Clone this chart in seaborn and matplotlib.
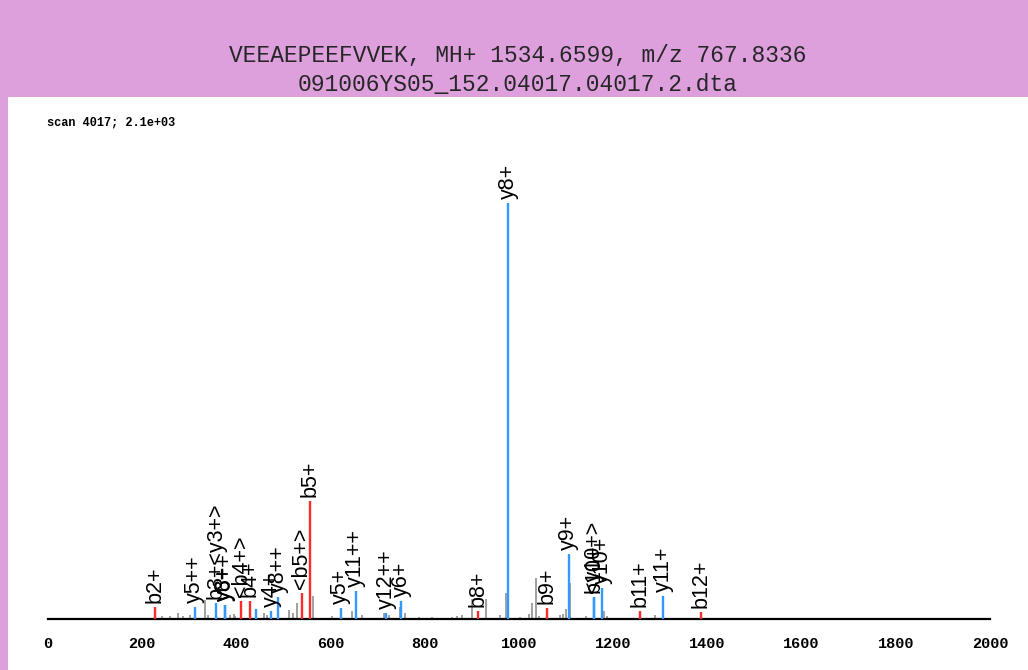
import numpy as np
import pandas as pd
import matplotlib
matplotlib.use('Agg')
import matplotlib.pyplot as plt
import seaborn as sns

# labelled fragment peaks (m/z, relative intensity in %, ion series, label)
frag_mz = [228.1, 311.2, 357.2, 375.2, 375.7, 410.2, 428.2, 441.5, 474.3, 488.7,
           539.2, 557.2, 621.4, 653.3, 717.8, 750.4, 912.4, 976.5, 1059.5, 1105.5,
           1158.5, 1158.6, 1176.6, 1257.6, 1305.6, 1386.6]
frag_int = [2.9, 2.9, 3.9, 3.4, 3.4, 4.3, 4.3, 2.4, 1.9, 5.3,
            6.3, 28.4, 2.6, 6.7, 1.5, 4.3, 1.9, 100.0, 2.6, 15.6,
            5.3, 5.3, 7.5, 1.9, 5.5, 1.7]
frag_ion = ['b', 'y', 'y', 'y', 'y', 'b', 'b', 'y', 'y', 'y',
            'b', 'b', 'y', 'y', 'y', 'y', 'b', 'y', 'b', 'y',
            'y', 'y', 'y', 'b', 'y', 'b']
frag_label = ['b2+', 'y5++', 'b3+<y3+>', 'y3+', 'y6++', '<b4+>', 'b4+', '', 'y4+', 'y8++',
              '<b5+>', 'b5+', 'y5+', 'y11++', 'y12++', 'y6+', 'b8+', 'y8+', 'b9+', 'y9+',
              'b10+', '<y10+>', 'y10+', 'b11+', 'y11+', 'b12+']

# unassigned peaks
other_mz = [241.6, 259.0, 277.0, 287.5, 301.7, 333.6, 340.7, 386.7, 394.0, 397.0,
            457.6, 464.7, 511.0, 521.0, 528.5, 561.6, 603.0, 645.4, 666.6, 712.5,
            723.0, 748.0, 758.6, 787.0, 815.0, 858.0, 868.5, 879.0, 900.4, 930.0,
            960.5, 972.6, 1003.0, 1020.6, 1027.8, 1037.0, 1042.0, 1088.0, 1093.7, 1100.0,
            1109.0, 1143.0, 1181.5, 1187.0, 1287.7]
other_int = [0.7, 0.7, 1.4, 0.7, 1.0, 4.6, 1.0, 1.0, 1.2, 0.7,
             1.4, 1.0, 2.2, 1.4, 3.9, 5.5, 0.7, 1.9, 1.0, 1.4,
             1.0, 2.9, 1.4, 0.5, 0.5, 0.5, 0.7, 1.0, 4.8, 4.8,
             1.0, 6.3, 0.5, 1.2, 3.8, 9.9, 0.7, 1.0, 1.2, 2.4,
             8.7, 0.7, 1.9, 0.7, 1.0]

title_1 = 'VEEAEPEEFVVEK, MH+ 1534.6599, m/z 767.8336'
title_2 = '091006YS05_152.04017.04017.2.dta'
scan_text = 'scan 4017; 2.1e+03'

frag = pd.DataFrame({'mz': frag_mz, 'intensity': frag_int, 'ion': frag_ion, 'label': frag_label})
other = pd.DataFrame({'mz': other_mz, 'intensity': other_int, 'ion': 'other', 'label': ''})
peaks = pd.concat([other, frag], ignore_index=True)

sns.set_style('white')
ion_colors = {'other': '#9a9a9a', 'b': '#ff2a2a', 'y': '#3399ff'}
ion_width = {'other': 1.3, 'b': 1.7, 'y': 1.7}

W, H = 1028, 670
fig = plt.figure(figsize=(W / 100, H / 100), dpi=100)
fig.patch.set_facecolor('#dda0dd')

panel = fig.add_axes([8 / W, 0, 1 - 8 / W, (H - 97) / H])
panel.set_facecolor('white')
panel.set_axis_off()
panel.add_patch(plt.Rectangle((0, 0), 1, 1, transform=panel.transAxes, color='white'))

ax = fig.add_axes([48 / W, 51 / H, 942 / W, 479 / H])
ax.patch.set_alpha(0)

for ion, grp in peaks.groupby('ion', sort=False):
    ax.vlines(grp['mz'], 0, grp['intensity'], color=ion_colors[ion],
              linewidth=ion_width[ion], zorder=2 if ion == 'other' else 3)

for _, row in frag.iterrows():
    if row['label']:
        ax.annotate(row['label'], (row['mz'], row['intensity']), xytext=(0, 3),
                    textcoords='offset points', rotation=90, ha='center', va='bottom',
                    fontsize=15.5, family='Liberation Sans', color='black')

ax.set_xlim(0, 2000)
ax.set_ylim(0, 115.1)
ax.set_xticks(range(0, 2001, 200))
ax.set_xticks(range(100, 2000, 200), minor=True)
ax.set_yticks([])
for s in ['top', 'right', 'left']:
    ax.spines[s].set_visible(False)
ax.spines['bottom'].set_linewidth(1.6)
ax.spines['bottom'].set_color('black')
ax.tick_params(axis='x', which='major', direction='out', length=6, width=1.6, pad=7,
               labelsize=11, colors='black')
ax.tick_params(axis='x', which='minor', direction='out', length=3.5, width=1.6)
for t in ax.get_xticklabels():
    t.set_family('Liberation Mono')
    t.set_fontweight('bold')

fig.text(518 / W, 1 - 55 / H, title_1, ha='center', va='center', fontsize=16.5,
         family='Liberation Mono', color='#262626')
fig.text(518 / W, 1 - 84 / H, title_2, ha='center', va='center', fontsize=16.5,
         family='Liberation Mono', color='#262626')
fig.text(47 / W, 1 - 123 / H, scan_text, ha='left', va='center', fontsize=8.6,
         family='Liberation Mono', fontweight='bold', color='black')

fig.savefig('out.png', dpi=100, facecolor=fig.get_facecolor())
